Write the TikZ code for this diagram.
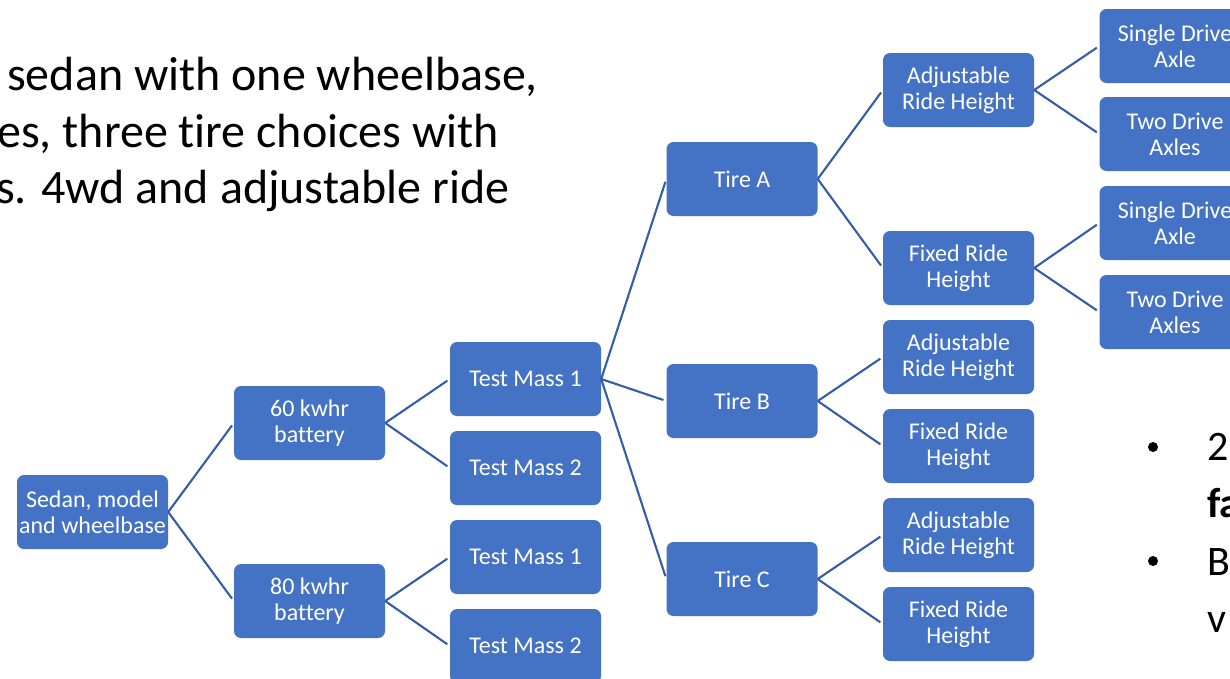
\documentclass[tikz,border=0pt]{standalone}
\usepackage{fontspec}
\setmainfont{Carlito}[Ligatures=NoCommon]
\definecolor{boxblue}{HTML}{4472C4}
\definecolor{lineblue}{HTML}{355CA6}
\tikzset{
  box/.style={rectangle, rounded corners=7pt, fill=boxblue,
    minimum width=151pt, minimum height=74pt, inner sep=2pt, align=center, text=white,
    font=\fontsize{24}{26}\selectfont},
  conn/.style={draw=lineblue, line width=2.1pt, shorten >=3pt},
  bigtext/.style={anchor=base west, inner sep=0pt, font=\fontsize{48}{56}\selectfont},
  bullettext/.style={anchor=base west, inner sep=0pt, font=\fontsize{42}{50}\selectfont}
}
\begin{document}
\begin{tikzpicture}[x=1pt,y=-1pt]
\useasboundingbox (0,0) rectangle (1230,678);
\clip (0,0) rectangle (1230,678);
\fill[white] (0,0) rectangle (1230,678);

% top-left text
\node[bigtext] (l1) at (7,90) {sedan with one wheelbase,};
\node[bigtext] (l2) at (-3,147) {es, three tire choices with};
\node[bigtext] (l3) at (-4,203) {s. 4wd and adjustable ride};

% bullets on the right
\fill (1153,447) circle (5pt);
\fill (1153,561) circle (5pt);
\node[bullettext] (r1) at (1207,460) {2};
\node[bullettext] (r2) at (1207,517) {\textbf{fa}};
\node[bullettext] (r3) at (1207,575) {B};
\node[bullettext] (r4) at (1207,632) {v};

% boxes
\node[box] (sedan) at (92.5,512) {Sedan, model\\and wheelbase};
\node[box] (b60) at (309.5,423) {60 kwhr\\battery};
\node[box] (b80) at (309.5,601) {80 kwhr\\battery};
\node[box] (m1a) at (525.5,379) {Test Mass 1};
\node[box] (m2a) at (525.5,468) {Test Mass 2};
\node[box] (m1b) at (525.5,557) {Test Mass 1};
\node[box] (m2b) at (525.5,646) {Test Mass 2};
\node[box] (ta) at (742,179) {Tire A};
\node[box] (tb) at (742,401) {Tire B};
\node[box] (tc) at (742,579) {Tire C};
\node[box] (adjA) at (958.5,90) {Adjustable\\Ride Height};
\node[box] (fixA) at (958.5,268) {Fixed Ride\\Height};
\node[box] (adjB) at (958.5,357) {Adjustable\\Ride Height};
\node[box] (fixB) at (958.5,446) {Fixed Ride\\Height};
\node[box] (adjC) at (958.5,535) {Adjustable\\Ride Height};
\node[box] (fixC) at (958.5,624) {Fixed Ride\\Height};
\node[box] (s1) at (1175,46) {Single Drive\\Axle};
\node[box] (t1) at (1175,134) {Two Drive\\Axles};
\node[box] (s2) at (1175,223) {Single Drive\\Axle};
\node[box] (t2) at (1175,312) {Two Drive\\Axles};

% connectors
\foreach \p/\c in {sedan/b60, sedan/b80, b60/m1a, b60/m2a, b80/m1b, b80/m2b,
  m1a/ta, m1a/tb, m1a/tc, ta/adjA, ta/fixA, tb/adjB, tb/fixB, tc/adjC, tc/fixC,
  adjA/s1, adjA/t1, fixA/s2, fixA/t2}
  \draw[conn] (\p.east) -- (\c.west);
\end{tikzpicture}
\end{document}
